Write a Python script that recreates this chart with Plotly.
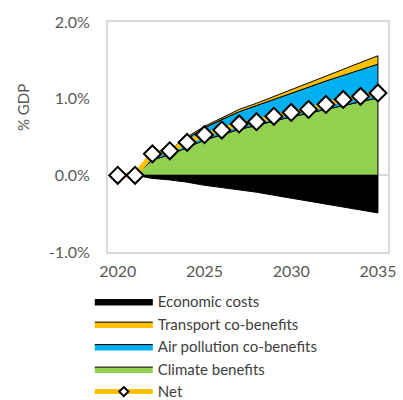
import numpy as np
import plotly.graph_objects as go

# ---- data (% of GDP) ----
years = [2021, 2022, 2023, 2024, 2025, 2026, 2027, 2028, 2029, 2030, 2031, 2032, 2033, 2034, 2035]
climate = [0, 0.20, 0.27, 0.36, 0.46, 0.53, 0.60, 0.65, 0.71, 0.765, 0.81, 0.86, 0.91, 0.96, 1.01]
air = [0, 0.03, 0.04, 0.12, 0.16, 0.20, 0.23, 0.26, 0.28, 0.31, 0.34, 0.37, 0.40, 0.42, 0.44]
transport = [0, 0.01, 0.02, 0.02, 0.02, 0.02, 0.03, 0.03, 0.04, 0.04, 0.05, 0.06, 0.07, 0.09, 0.11]
costs = [0, -0.04, -0.06, -0.09, -0.13, -0.16, -0.19, -0.22, -0.26, -0.30, -0.33, -0.37, -0.41, -0.45, -0.49]
net_years = [2020, 2021, 2022, 2023, 2024, 2025, 2026, 2027, 2028, 2029, 2030, 2031, 2032, 2033, 2034, 2035]
net = [0, 0, 0.28, 0.32, 0.43, 0.53, 0.59, 0.67, 0.70, 0.77, 0.82, 0.86, 0.925, 0.99, 1.03, 1.075]
x_ticks = [2020, 2025, 2030, 2035]
y_ticks = [-1.0, 0.0, 1.0, 2.0]

FONT = "Lato"
TXT = "#595959"

fig = go.Figure()


def band(name, lower, upper, color, rank):
    xs = list(years) + list(years[::-1])
    ys = list(upper) + list(lower[::-1])
    fig.add_trace(go.Scatter(
        x=xs, y=ys, mode="lines", fill="toself", fillcolor=color,
        line=dict(color="black", width=1), name=name, legendrank=rank,
        hoverinfo="skip"))


zero = np.zeros(len(years))
c1 = np.array(climate)
c2 = c1 + np.array(air)
c3 = c2 + np.array(transport)

band("Climate benefits", zero, c1, "#92D050", 4)
band("Air pollution co-benefits", c1, c2, "#00B0F0", 3)
band("Transport co-benefits", c2, c3, "#FFC000", 2)
band("Economic costs", zero, np.array(costs), "black", 1)

fig.add_trace(go.Scatter(
    x=net_years, y=net, mode="lines+markers", name="Net", showlegend=False,
    line=dict(color="#FFC000", width=5),
    marker=dict(symbol="diamond", size=13, color="white",
                line=dict(color="black", width=2))))
fig.add_trace(go.Scatter(
    x=[None], y=[None], mode="lines+markers", name="Net", legendrank=5,
    line=dict(color="#FFC000", width=5),
    marker=dict(symbol="diamond", size=7, color="white",
                line=dict(color="black", width=2))))

fig.update_layout(
    width=403, height=400,
    margin=dict(l=108, r=15, t=22, b=148, autoexpand=False),
    paper_bgcolor="white", plot_bgcolor="white",
    font=dict(family=FONT, color=TXT, size=16),
    showlegend=True,
    legend=dict(x=-0.065, xanchor="left", y=-0.145, yanchor="top",
                font=dict(size=15, color="#404040", family=FONT),
                itemwidth=58, tracegroupgap=0, bgcolor="rgba(0,0,0,0)"),
    xaxis=dict(range=[2019.44, 2035.58], tickvals=x_ticks,
               ticktext=[str(v) for v in x_ticks], showgrid=False,
               zeroline=False, showline=True, mirror=True,
               linecolor="#D9D9D9", linewidth=2, ticks="",
               ticklabelstandoff=4,
               tickfont=dict(size=16, color=TXT)),
    yaxis=dict(range=[-1, 2], tickvals=y_ticks,
               ticktext=[f"{v:.1f}%" for v in y_ticks], showgrid=False,
               zeroline=True, zerolinecolor="#D9D9D9", zerolinewidth=2,
               showline=True, mirror=True, linecolor="#D9D9D9", linewidth=2,
               ticks="", layer="above traces", ticklabelstandoff=13,
               tickfont=dict(size=16, color=TXT)),
    annotations=[dict(text="% GDP", textangle=-90, xref="paper", yref="paper",
                      x=-0.343, y=0.63, showarrow=False,
                      font=dict(size=15, color=TXT, family=FONT))],
)

fig.write_html(
    "out.html",
    config={"displayModeBar": False},
    post_script="document.body.style.margin='0';document.body.style.overflow='hidden';",
)
